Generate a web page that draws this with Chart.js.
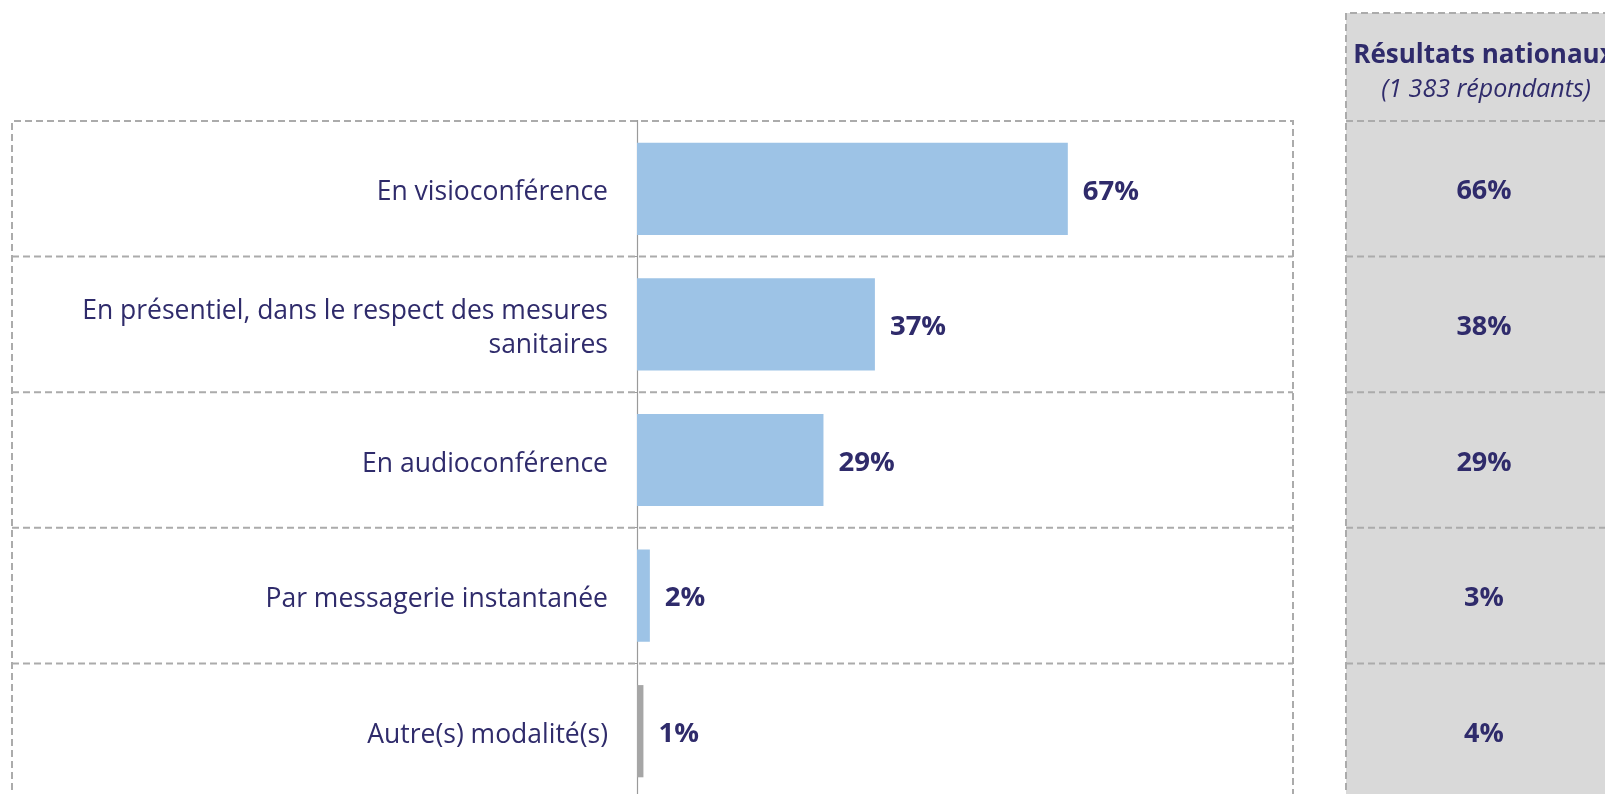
<!DOCTYPE html>
<html>
<head>
<meta charset="utf-8">
<script src="https://cdn.jsdelivr.net/npm/chart.js@4/dist/chart.umd.min.js"></script>
<style>
  html, body { margin: 0; padding: 0; background: #fff; overflow: hidden; }
  #wrap { width: 1605px; height: 830px; position: relative; }
</style>
</head>
<body>
<div id="wrap"><canvas id="c" width="1605" height="830"></canvas></div>
<script>
const categories = [
  "En visioconférence",
  ["En présentiel, dans le respect des mesures", "sanitaires"],
  "En audioconférence",
  "Par messagerie instantanée",
  "Autre(s) modalité(s)"
];
const values = [67, 37, 29, 2, 1];
const nationalValues = [66, 38, 29, 3, 4];
const nationalTitle = "Résultats nationaux";
const nationalSubtitle = "(1 383 répondants)";

const NAVY = '#2f2b6b';
const DASH = '#ababab';
const FONT = '"Open Sans", "DejaVu Sans", sans-serif';

const overlay = {
  id: 'overlay',
  beforeDatasetsDraw(chart) {
    const ctx = chart.ctx;
    const y = chart.scales.y;
    const area = chart.chartArea;
    const n = categories.length;
    const rowH = (area.bottom - area.top) / n;
    const bounds = [];
    for (let i = 0; i <= n; i++) bounds.push(area.top + i * rowH);

    ctx.save();
    ctx.fillStyle = '#d9d9d9';
    ctx.fillRect(1346, 13, 300, 900);

    ctx.strokeStyle = DASH;
    ctx.lineWidth = 2;
    ctx.setLineDash([7, 4]);
    ctx.beginPath();
    ctx.moveTo(12, 900); ctx.lineTo(12, bounds[0]); ctx.lineTo(1293, bounds[0]); ctx.lineTo(1293, 900);
    for (let i = 1; i < n; i++) { ctx.moveTo(12, bounds[i]); ctx.lineTo(1293, bounds[i]); }
    ctx.stroke();
    ctx.beginPath();
    ctx.moveTo(1346, 900); ctx.lineTo(1346, 13); ctx.lineTo(1650, 13);
    ctx.moveTo(1346, bounds[0]); ctx.lineTo(1650, bounds[0]);
    for (let i = 1; i < n; i++) { ctx.moveTo(1346, bounds[i]); ctx.lineTo(1650, bounds[i]); }
    ctx.stroke();
    ctx.setLineDash([]);

    ctx.strokeStyle = '#9a9a9a';
    ctx.lineWidth = 1.2;
    ctx.beginPath();
    ctx.moveTo(area.left + 0.5, area.top - 1);
    ctx.lineTo(area.left + 0.5, area.bottom);
    ctx.stroke();

    ctx.fillStyle = NAVY;
    ctx.textAlign = 'center';
    ctx.textBaseline = 'middle';
    ctx.font = 'bold 26px ' + FONT;
    ctx.fillText(nationalTitle, 1484, 56);
    ctx.font = 'italic 25px ' + FONT;
    ctx.fillText(nationalSubtitle, 1486, 90);

    ctx.font = 'bold 27px ' + FONT;
    nationalValues.forEach((v, i) => {
      ctx.fillText(v + '%', 1484, y.getPixelForValue(i) + 3);
    });
    ctx.restore();
  },
  afterDatasetsDraw(chart) {
    const ctx = chart.ctx;
    const meta = chart.getDatasetMeta(0);
    ctx.save();
    ctx.fillStyle = NAVY;
    ctx.font = 'bold 27.5px ' + FONT;
    ctx.textAlign = 'left';
    ctx.textBaseline = 'middle';
    meta.data.forEach((bar, i) => {
      ctx.fillText(values[i] + '%', bar.x + 15, bar.y + 3);
    });
    ctx.restore();
  }
};

new Chart(document.getElementById('c'), {
  type: 'bar',
  data: {
    labels: categories,
    datasets: [{
      data: values,
      backgroundColor: ['#9dc3e6', '#9dc3e6', '#9dc3e6', '#9dc3e6', '#a6a6a6'],
      borderWidth: 0,
      barPercentage: 0.68,
      categoryPercentage: 1
    }]
  },
  options: {
    indexAxis: 'y',
    responsive: false,
    animation: false,
    devicePixelRatio: 1,
    layout: { padding: { top: 121, bottom: 31, right: 325, left: 0 } },
    plugins: { legend: { display: false }, tooltip: { enabled: false } },
    scales: {
      x: { display: false, min: 0, max: 100 },
      y: {
        afterFit(scale) { scale.width = 637; scale.paddingTop = 0; scale.paddingBottom = 0; },
        border: { display: false },
        grid: { offset: true, drawOnChartArea: false, drawTicks: true, tickLength: 5, color: '#9a9a9a', lineWidth: 1 },
        ticks: {
          color: NAVY,
          padding: 24,
          labelOffset: 4,
          font: { family: FONT, size: 26.5, weight: 'normal', lineHeight: 1.3 }
        }
      }
    }
  },
  plugins: [overlay]
});
</script>
</body>
</html>
